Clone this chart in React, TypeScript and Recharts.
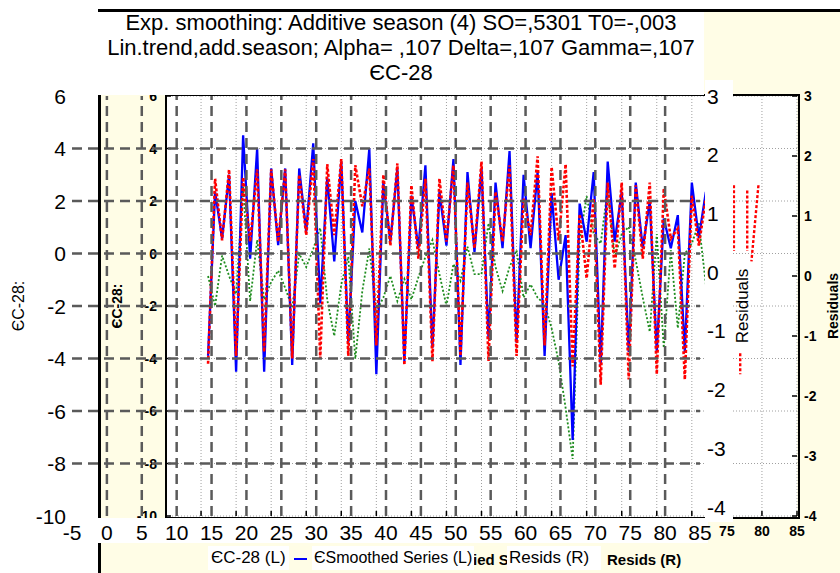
import React from 'react';
import { ComposedChart, Line, XAxis, YAxis, CartesianGrid, ReferenceLine } from 'recharts';

const FONT = "'Liberation Sans', Arial, sans-serif";
const YELLOW = '#fffde6';

const xTicks = [-5, 0, 5, 10, 15, 20, 25, 30, 35, 40, 45, 50, 55, 60, 65, 70, 75, 80, 85];
const leftTicks = [-10, -8, -6, -4, -2, 0, 2, 4, 6];
const residTicks = [-4, -3, -2, -1, 0, 1, 2, 3];
const dashedX = [0, 5, 10, 15, 20, 25, 30, 35, 40, 45, 50, 55, 60, 65, 70, 75, 80];
const dashedY = [-8, -6, -4, -2, 0, 2, 4];

// ЄC-28 (L), cases 1..72
const ec28 = [
  -3.9, 2.35, 0.57, 3.0, -4.5, 4.5, -0.2, 4.0, -4.5, 3.24, 0.32, 3.24, -4.25, 3.24, 0.83, 4.2,
  -1.9, 2.9, -0.3, 3.5, -3.4, 2.0, 0.8, 4.0, -4.6, 2.7, 0.45, 3.24, -4.1, 2.2, 0.2, 3.36,
  -3.6, 2.35, 0.3, 3.6, -4.25, 3.1, 0.06, 3.24, -3.25, 2.7, 0.2, 3.9, -3.4, 3.0, 0.2, 3.1,
  -3.9, 2.3, -1.0, 0.7, -7.1, 1.9, 0.45, 3.1, -4.25, 3.5, 0.45, 2.35, -3.75, 2.7, 0.2, 2.0,
  -3.75, 1.33, 0.2, 1.46, -3.75, 2.7, 0.6, 2.35,
];

// Smoothed Series (L)
const smoothed = [
  -4.2, 2.85, 0.5, 3.2, -3.9, 2.9, 0.45, 3.2, -3.75, 3.2, 0.45, 3.2, -4.0, 3.0, 0.7, 3.6,
  -4.0, 3.4, 0.7, 3.6, -3.9, 3.36, 1.8, 3.24, -3.5, 3.0, 0.3, 3.43, -4.25, 2.6, -0.2, 2.85,
  -4.1, 2.85, 0.45, 3.36, -3.9, 2.7, 0.2, 3.5, -4.1, 2.35, 0.45, 3.36, -3.9, 2.1, 0.7, 3.7,
  -3.5, 3.3, 0.5, 3.4, -4.3, 1.5, -0.95, 2.1, -5.0, 2.7, -0.57, 2.7, -4.8, 2.6, -0.2, 2.7,
  -4.6, 2.48, 0.57, 0.95, -4.8, 2.2, 0.3, 2.1,
];

// Resids (R)
const resids = [
  0.0, -0.5, 0.34, 0.0, -0.3, 1.5, -0.42, 0.6, -0.39, -0.1, 0.09, -0.2, -0.53, 0.37, 0.15, 0.45,
  0.8, -0.4, -1.0, -0.14, 0.32, -1.38, -0.25, 0.46, -0.59, -0.36, 0.0, -0.42, -0.05, -0.39, -0.02, 0.32,
  0.6, 0.03, -0.5, 0.2, -0.08, 0.49, 0.03, 0.03, 0.88, 0.15, -0.25, 0.15, 0.43, -0.36, -0.14, -0.36,
  -0.47, -0.87, -1.43, -2.2, -3.05, 0.6, 1.33, 0.7, 0.54, 1.45, 0.32, 0.7, 0.82, 0.26, -0.36, -0.93,
  0.7, -1.2, 0.43, -0.87, 0.37, 0.54, 0.88, -0.14,
];

// stray bits of the smoothed line right of the outer residual labels
const tailCase = [76, 76, 76.4, 76.9, 76.9, 77.4, 77.9, 77.9, 78.6, 79.5, 78.5];
const tailValue = [2.6, 0.1, null, -3.8, -4.6, null, 2.4, 0.1, null, 2.6, -0.3];

const rows = ec28.map((v, i) => ({ case: i + 1, ec28: v, smooth: smoothed[i], resid: resids[i] }));
const tailRows = tailCase.map((c, i) => ({ case: c, tail: tailValue[i] }));

const box = (left: number, top: number, width: number, height: number, bg: string): React.CSSProperties => ({
  position: 'absolute', left, top, width, height, background: bg,
});

// inner (bold) axis ticks
const InnerLeftTick = ({ x, y, payload }: any) => (
  <g>
    <line x1={x + 9} x2={x + 14} y1={y} y2={y} stroke="#000" strokeWidth={1.5} />
    <text x={x} y={y} textAnchor="end" dominantBaseline="central" fontSize={14} fontWeight="bold" fontFamily={FONT} fill="#000">{payload.value}</text>
  </g>
);
const InnerRightTick = ({ x, y, payload }: any) => (
  <g>
    <line x1={x - 12} x2={x - 7} y1={y} y2={y} stroke="#000" strokeWidth={1.5} />
    <text x={x} y={y} textAnchor="start" dominantBaseline="central" fontSize={14} fontWeight="bold" fontFamily={FONT} fill="#000">{payload.value}</text>
  </g>
);
// labels under the outer graph's white label strip are hidden in the reference
const InnerBottomTick = ({ x, y, payload }: any) => (
  <g>
    <line x1={x} x2={x} y1={y - 15} y2={y - 20} stroke="#000" strokeWidth={1.5} />
    {x > 708 && (
      <text x={x} y={y} textAnchor="middle" dominantBaseline="central" fontSize={14} fontWeight="bold" fontFamily={FONT} fill="#000">{payload.value}</text>
    )}
  </g>
);

// outer (regular, large) axis ticks
const OuterLeftTick = ({ x, y, payload }: any) => (
  <text x={x} y={y} textAnchor="end" dominantBaseline="central" fontSize={21} fontFamily={FONT} fill="#000">{payload.value}</text>
);
const OuterRightTick = ({ x, y, payload }: any) => (
  <text x={x} y={y} textAnchor="start" dominantBaseline="central" fontSize={21} fontFamily={FONT} fill="#000">{payload.value}</text>
);
const OuterBottomTick = ({ x, y, payload }: any) => (
  <text x={x} y={y} textAnchor="middle" dominantBaseline="central" fontSize={21} fontFamily={FONT} fill="#000">{payload.value}</text>
);

const axisTitle = (text: string, dx: number, size: number, bold: boolean) => ({ viewBox }: any) => {
  const cx = viewBox.x + dx;
  const cy = viewBox.y + viewBox.height / 2;
  return (
    <text x={cx} y={cy} transform={`rotate(-90, ${cx}, ${cy})`} textAnchor="middle" dominantBaseline="central"
      fontSize={size} fontWeight={bold ? 'bold' : 'normal'} fontFamily={FONT} fill="#000">{text}</text>
  );
};

const legendText: React.CSSProperties = { position: 'absolute', top: 546, fontFamily: FONT, fontSize: 17, lineHeight: '24px', color: '#000', whiteSpace: 'nowrap' };
const legendBold: React.CSSProperties = { ...legendText, fontSize: 15, fontWeight: 'bold', top: 548 };

export default function App() {
  return (
    <div style={{ position: 'absolute', left: 0, top: 0, width: 840, height: 573, background: '#fff', overflow: 'hidden' }}>
      {/* paper */}
      <div style={box(100, 95, 740, 478, YELLOW)} />
      <div style={box(704, 12, 136, 83, YELLOW)} />
      <div style={box(166, 95, 631, 423, '#fff')} />
      <div style={box(98, 9, 742, 3, '#000')} />
      <div style={box(98, 95, 3, 478, '#000')} />

      {/* inner chart: the data */}
      <div style={{ position: 'absolute', left: 0, top: 0 }}>
        <ComposedChart width={840} height={573} data={rows} margin={{ top: 96, right: 0, bottom: 32, left: 100 }}>
          <CartesianGrid stroke="#a0a0a0" strokeWidth={1} strokeDasharray="1 2" />
          <XAxis dataKey="case" type="number" domain={[-5, 85]} ticks={xTicks} interval={0} height={25}
            tickSize={0} tickMargin={15} axisLine={false} tickLine={false} tick={<InnerBottomTick />} />
          <YAxis domain={[-10, 6]} ticks={leftTicks} interval={0} width={66} tickSize={0} tickMargin={9}
            axisLine={false} tickLine={false} tick={<InnerLeftTick />} label={axisTitle('ЄC-28:', 17, 14, true)} />
          <YAxis yAxisId="r" orientation="right" domain={[-4, 3]} ticks={residTicks} interval={0} width={43}
            tickSize={0} tickMargin={7} axisLine={false} tickLine={false} tick={<InnerRightTick />}
            label={axisTitle('Residuals', 36, 14, true)} />
          <Line yAxisId="r" dataKey="resid" type="linear" stroke="#1e8c1e" strokeWidth={1.8} strokeDasharray="2 2" dot={false} isAnimationActive={false} />
          <Line dataKey="ec28" type="linear" stroke="#0000ff" strokeWidth={2.3} dot={false} isAnimationActive={false} />
          <Line dataKey="smooth" type="linear" stroke="#ff0000" strokeWidth={2.6} strokeDasharray="3 2" dot={false} isAnimationActive={false} />
          <Line data={tailRows} dataKey="tail" type="linear" stroke="#ff0000" strokeWidth={2.4} strokeDasharray="3 2" dot={false} isAnimationActive={false} />
        </ComposedChart>
      </div>

      {/* inner frame */}
      <div style={{ position: 'absolute', left: 165, top: 94, width: 631, height: 421, border: '2px solid #000' }} />

      {/* white label boxes of the outer graph */}
      <div style={box(60, 518, 648, 25, '#fff')} />
      <div style={box(705, 80, 28, 442, '#fff')} />
      <div style={box(98, 12, 606, 83, '#fff')} />

      {/* outer chart: dashed grid and big labels (its series are drawn invisibly, only to bind the axes) */}
      <div style={{ position: 'absolute', left: 0, top: 0 }}>
        <ComposedChart width={840} height={573} data={rows} margin={{ top: 96, right: 0, bottom: 32, left: 0 }}>
          <XAxis dataKey="case" type="number" domain={[-5, 85]} ticks={xTicks} interval={0} height={25}
            tickSize={0} tickMargin={16} axisLine={false} tickLine={false} tick={<OuterBottomTick />} />
          <YAxis domain={[-10, 6]} ticks={leftTicks} interval={0} width={72} tickSize={0} tickMargin={6}
            axisLine={false} tickLine={false} tick={<OuterLeftTick />} label={axisTitle('ЄC-28:', 18, 16, false)} />
          <YAxis yAxisId="r" orientation="right" domain={[-4.15, 3]} ticks={residTicks} interval={0} width={140}
            tickSize={0} tickMargin={7} axisLine={false} tickLine={false} tick={<OuterRightTick />}
            label={axisTitle('Residuals', 42, 17, false)} />
          <Line dataKey="ec28" stroke="none" dot={false} activeDot={false} isAnimationActive={false} />
          <Line yAxisId="r" dataKey="resid" stroke="none" dot={false} activeDot={false} isAnimationActive={false} />
          {dashedY.map((v) => (
            <ReferenceLine key={`y${v}`} y={v} stroke="#5a5a5a" strokeWidth={2.5} strokeDasharray="10 6" />
          ))}
          {dashedX.map((v) => (
            <ReferenceLine key={`x${v}`} x={v} stroke="#5a5a5a" strokeWidth={2.5} strokeDasharray="10 6" />
          ))}
        </ComposedChart>
      </div>

      {/* title */}
      <div style={{ position: 'absolute', left: 98, top: 10, width: 606, textAlign: 'center', fontFamily: FONT, fontSize: 22, lineHeight: '25px', color: '#000' }}>
        <div>Exp. smoothing: Additive season (4) SO=,5301 T0=-,003</div>
        <div style={{ whiteSpace: 'nowrap' }}>Lin.trend,add.season; Alpha= ,107 Delta=,107 Gamma=,107</div>
        <div>ЄC-28</div>
      </div>

      {/* legend */}
      <span style={{ ...legendBold, left: 473 }}>ied S</span>
      <span style={{ ...legendBold, left: 607 }}>Resids (R)</span>
      <span style={{ ...legendText, left: 208, background: '#fff', padding: '0 3px' }}>ЄC-28 (L)</span>
      <div style={box(294, 558, 13, 2, '#0000ff')} />
      <span style={{ ...legendText, left: 312, fontSize: 16, background: '#fff', padding: '0 2px' }}>ЄSmoothed Series (L)</span>
      <span style={{ ...legendText, left: 507, background: '#fff', padding: '0 12px 0 2px' }}>Resids (R)</span>
    </div>
  );
}
